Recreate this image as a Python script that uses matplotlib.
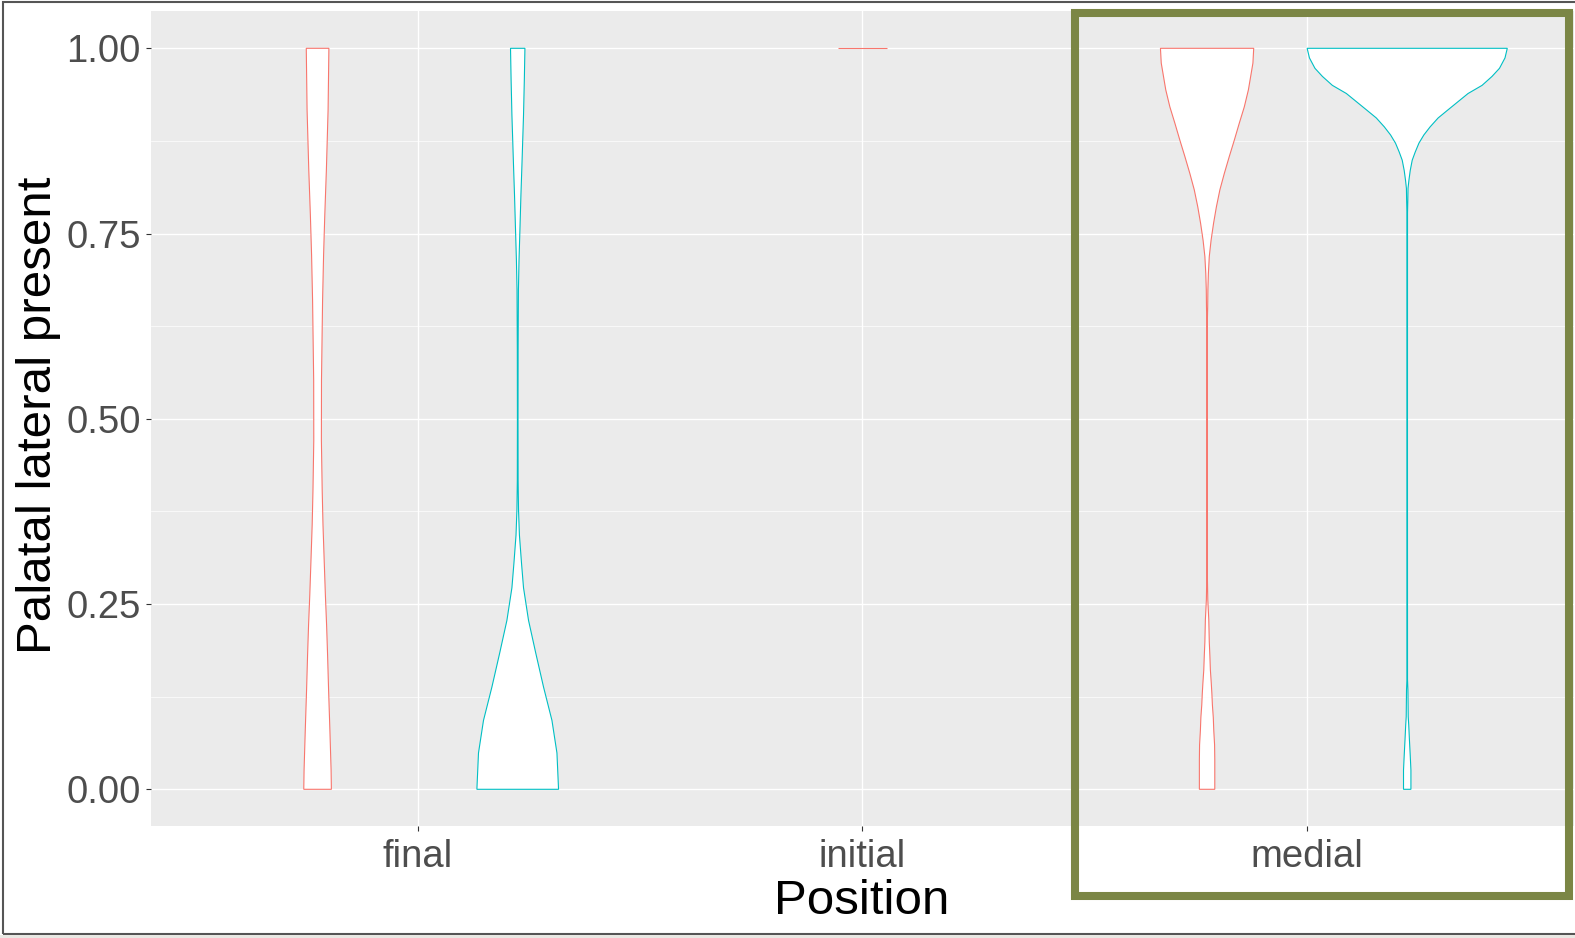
import matplotlib.pyplot as plt
from matplotlib.patches import Rectangle
import numpy as np

plt.rcParams['font.family'] = ['Liberation Sans', 'DejaVu Sans']

positions = ["final", "initial", "medial"]
hue_colors = ["#F8766D", "#00BFC4"]

# violin outlines: y value and scaled width (1 = widest violin)
final_red_y = [1.000, 0.917, 0.836, 0.775, 0.721, 0.660, 0.552, 0.471, 0.404, 0.357,
               0.309, 0.262, 0.222, 0.181, 0.134, 0.080, 0.026, 0.000]
final_red_w = [0.113, 0.105, 0.088, 0.072, 0.060, 0.050, 0.039, 0.038, 0.046, 0.054,
               0.066, 0.078, 0.090, 0.100, 0.110, 0.123, 0.135, 0.138]

final_blue_y = [1.000, 0.957, 0.910, 0.876, 0.842, 0.802, 0.755, 0.714, 0.674, 0.593,
                0.498, 0.417, 0.377, 0.343, 0.305, 0.272, 0.228, 0.184, 0.138, 0.093,
                0.049, 0.000]
final_blue_w = [0.072, 0.066, 0.058, 0.050, 0.042, 0.032, 0.022, 0.013, 0.007, 0.004,
                0.003, 0.004, 0.008, 0.017, 0.038, 0.058, 0.108, 0.180, 0.258, 0.342,
                0.392, 0.408]

initial_red_y = [1.000]
initial_red_w = [0.245]

medial_red_y = [1.000, 0.980, 0.944, 0.921, 0.899, 0.876, 0.854, 0.831, 0.809, 0.786,
                0.764, 0.741, 0.719, 0.696, 0.674, 0.651, 0.633, 0.458, 0.287, 0.256,
                0.229, 0.199, 0.180, 0.161, 0.143, 0.129, 0.114, 0.097, 0.079, 0.060,
                0.040, 0.000]
medial_red_w = [0.466, 0.458, 0.413, 0.372, 0.322, 0.272, 0.222, 0.172, 0.128, 0.093,
                0.065, 0.040, 0.022, 0.013, 0.008, 0.006, 0.003, 0.002, 0.003, 0.007,
                0.017, 0.022, 0.028, 0.033, 0.042, 0.048, 0.053, 0.062, 0.067, 0.075,
                0.077, 0.077]

medial_blue_y = [1.000, 0.987, 0.973, 0.962, 0.950, 0.939, 0.928, 0.916, 0.906, 0.894,
                 0.883, 0.872, 0.860, 0.849, 0.835, 0.822, 0.811, 0.795, 0.778, 0.458,
                 0.148, 0.134, 0.098, 0.087, 0.067, 0.046, 0.026, 0.000]
medial_blue_w = [1.000, 0.977, 0.922, 0.847, 0.748, 0.608, 0.508, 0.399, 0.309, 0.229,
                 0.166, 0.117, 0.080, 0.050, 0.030, 0.017, 0.008, 0.006, 0.003, 0.0025,
                 0.003, 0.007, 0.010, 0.015, 0.022, 0.030, 0.037, 0.037]

violins = {
    "final": [(final_red_y, final_red_w, 0), (final_blue_y, final_blue_w, 1)],
    "initial": [(initial_red_y, initial_red_w, 0)],
    "medial": [(medial_red_y, medial_red_w, 0), (medial_blue_y, medial_blue_w, 1)],
}

W, H = 1575, 938
fig = plt.figure(figsize=(W / 100, H / 100), dpi=100)
ax = fig.add_axes([150.8 / W, (H - 826.35) / H, (1574 - 150.8) / W, (826.35 - 11.25) / H])
ax.set_facecolor("#EBEBEB")

dodge = 0.225
for i, pos in enumerate(positions, start=1):
    groups = violins[pos]
    for j, (ys, ws, hue) in enumerate(groups):
        if len(groups) == 2:
            center = i + (-dodge if j == 0 else dodge)
        else:
            center = i
        ys = np.array(ys)
        half = np.array(ws) * dodge
        xs = np.concatenate([center + half, (center - half)[::-1]])
        yy = np.concatenate([ys, ys[::-1]])
        ax.fill(xs, yy, facecolor="white", edgecolor=hue_colors[hue], linewidth=0.8, zorder=3)

ax.set_xlim(0.4, 3.6)
ax.set_ylim(-0.05, 1.05)
ax.set_xticks([1, 2, 3])
ax.set_xticklabels(positions)
ax.set_yticks([0, 0.25, 0.5, 0.75, 1.0])
ax.set_yticklabels(["0.00", "0.25", "0.50", "0.75", "1.00"])
ax.set_yticks([0.125, 0.375, 0.625, 0.875], minor=True)
ax.grid(which="major", color="white", linewidth=1.0)
ax.grid(which="minor", axis="y", color="white", linewidth=0.5)
ax.set_axisbelow(True)
for s in ax.spines.values():
    s.set_visible(False)
ax.tick_params(which="major", length=3.6, width=0.8, color="#333333",
               labelsize=27.5, labelcolor="#4D4D4D", pad=3.6)
ax.tick_params(axis="x", pad=5.5)
ax.tick_params(which="minor", length=0)

fig.text(50.7 / W, 1 - 415.5 / H, "Palatal lateral present", fontsize=35.5, rotation=90,
         ha="center", va="baseline", rotation_mode="anchor")
fig.text(862 / W, 1 - 914 / H, "Position", fontsize=35.5, ha="center", va="baseline")

# outer frame of the screenshot and the highlight box
fig.add_artist(Rectangle((2.5 / W, (H - 934) / H), 1.2, (934 - 2.5) / H, transform=fig.transFigure,
                         fill=False, edgecolor="#555555", linewidth=1.5))
fig.add_artist(Rectangle((0, 0), 1, 3.5 / H, transform=fig.transFigure,
                         facecolor="#E9E8E3", edgecolor="none"))
fig.add_artist(Rectangle((1075 / W, (H - 896) / H), 494 / W, 883 / H, transform=fig.transFigure,
                         fill=False, edgecolor="#7B8645", linewidth=5.8))

fig.savefig("out.png", dpi=100)
